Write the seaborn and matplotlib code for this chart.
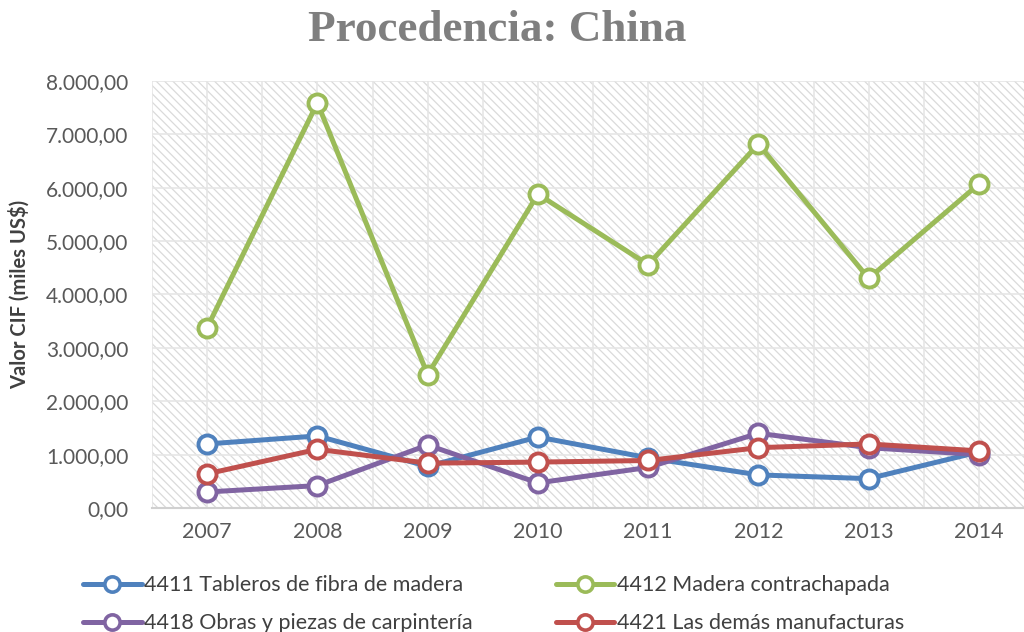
import numpy as np
import pandas as pd
import matplotlib
matplotlib.use("Agg")
import matplotlib.pyplot as plt
from matplotlib.patches import Rectangle
from matplotlib.ticker import FuncFormatter, MultipleLocator
import seaborn as sns

# --- datos ---
years = [2007, 2008, 2009, 2010, 2011, 2012, 2013, 2014]
tableros = [1200, 1350, 780, 1330, 940, 620, 550, 1050]
contrachapada = [3380, 7590, 2500, 5880, 4560, 6820, 4300, 6070]
carpinteria = [300, 420, 1180, 470, 760, 1400, 1130, 1000]
manufacturas = [640, 1100, 840, 860, 890, 1130, 1200, 1070]

series_names = ["4411 Tableros de fibra de madera", "4412 Madera contrachapada",
                "4418 Obras y piezas de carpintería", "4421 Las demás manufacturas"]
colors = ["#4f81bd", "#9bbb59", "#8064a2", "#c0504d"]

df = pd.DataFrame({
    "Año": years * 4,
    "Valor": tableros + contrachapada + carpinteria + manufacturas,
    "Serie": [n for n in series_names for _ in years],
})

sns.set_style("white")
plt.rcParams["font.family"] = ["Lato", "DejaVu Sans"]
plt.rcParams["hatch.linewidth"] = 0.9

fig = plt.figure(figsize=(10.24, 6.32), dpi=100)
ax = fig.add_axes([152 / 1024, 1 - 508 / 632, 882 / 1024, 427 / 632])

# fondo rayado
ax.add_patch(Rectangle((0, 0), 1, 1, transform=ax.transAxes, facecolor="white",
                       edgecolor="#dadada", hatch="\\\\\\\\", lw=0, zorder=0))

sns.lineplot(data=df, x="Año", y="Valor", hue="Serie", hue_order=series_names,
             palette=colors, marker="o", markersize=13, linewidth=3.6,
             markeredgewidth=2.8, ax=ax, legend=False, zorder=3)
for line in ax.lines:
    line.set_markerfacecolor("white")
    line.set_markeredgecolor(line.get_color())

ax.set_xlim(2006.5, 2014.5)
ax.set_ylim(0, 8000)
ax.set_xticks(years)
ax.xaxis.set_minor_locator(MultipleLocator(0.5))
ax.yaxis.set_major_locator(MultipleLocator(1000))
ax.yaxis.set_major_formatter(FuncFormatter(
    lambda v, p: f"{v:,.2f}".replace(",", "X").replace(".", ",").replace("X", ".")))
ax.grid(True, which="both", axis="x", color="#e6e6e6", lw=1.2, zorder=1)
ax.grid(True, which="major", axis="y", color="#e6e6e6", lw=1.2, zorder=1)
ax.set_axisbelow(True)

for s in ["top", "right", "left"]:
    ax.spines[s].set_visible(False)
ax.spines["bottom"].set_color("#d0d0d0")
ax.spines["bottom"].set_linewidth(1.5)
ax.tick_params(axis="x", length=0, labelsize=15.5, colors="#595959", pad=10)
ax.tick_params(axis="y", length=0, labelsize=15, colors="#595959", pad=17)

ax.set_xlabel("")
ax.set_ylabel("Valor CIF (miles US$)", fontsize=14.5, fontweight="bold", color="#404040")
ax.yaxis.set_label_coords(-122 / 882, 0.5)

fig.text(0.486, 0.953, "Procedencia: China", ha="center", va="center", fontsize=32.5,
         fontweight="bold", color="#7f7f7f", family=["Liberation Serif", "DejaVu Serif"])

handles = [plt.Line2D([], [], color=c, lw=3.6, marker="o", markersize=11,
                      markerfacecolor="white", markeredgecolor=c, markeredgewidth=2.6)
           for c in colors]
order = [0, 2, 1, 3]
fig.legend([handles[i] for i in order], [series_names[i] for i in order], ncol=2,
           loc="lower left", bbox_to_anchor=(64 / 1024, -0.033), frameon=False,
           fontsize=15.5, labelcolor="#404040", handlelength=2.7, handletextpad=0.1,
           columnspacing=3.9, labelspacing=0.85)

fig.savefig("out.png", dpi=100)
